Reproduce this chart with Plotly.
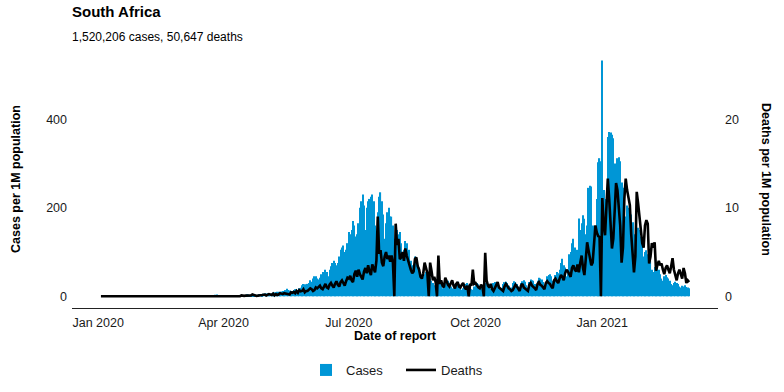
import pandas as pd
import plotly.graph_objects as go

# ---------------- data (per 1M population, daily, from 2020-01-03) ----------------
start_date = "2020-01-03"

cases_jan20 = [0, 0, 0, 0, 0, 0, 0, 0, 0, 0, 0, 0, 0, 0, 0, 0, 0, 0, 0, 0, 0, 0, 0, 0, 0, 0, 0, 0, 0]
cases_feb20 = [0, 0, 0, 0, 0, 0, 0, 0, 0, 0, 0, 0, 0, 0, 0, 0, 0, 0, 0, 0, 0, 0, 0, 0, 0, 0, 0, 0, 0]
cases_mar20 = [0, 0, 0, 0, 0.02, 0, 0.02, 0.02, 0.02, 0.03, 0.05, 0.05, 0.1, 0.1, 0.2, 0.2, 0.3, 0.5, 0.8, 0.8,
               1.7, 1.5, 2.1, 1.7, 2.1, 3.7, 4.1, 1.2, 0.5, 1.0, 0.9]
cases_apr20 = [1.4, 0.9, 1.7, 1.7, 0.9, 0.8, 1.2, 0.5, 1.8, 1.4, 3.0, 2.4, 1.8, 0.6, 0.7, 1.7, 2.9, 4.4, 4.2, 2.6,
               2.1, 2.1, 2.7, 4.6, 2.7, 2.9, 5.4, 5.0, 3.9, 5.7]
cases_may20 = [6, 6, 7, 6, 5, 7, 8, 9, 9, 10, 10, 9, 11, 12, 12, 14, 17, 14, 13, 12,
               12, 14, 16, 16, 14, 18, 19, 25, 28, 27, 23]
cases_jun20 = [28, 30, 36, 33, 40, 45, 45, 40, 38, 42, 50, 55, 55, 60, 55, 45, 60, 68, 75, 80,
               75, 70, 75, 90, 105, 110, 115, 100, 105, 120]
cases_jul20 = [145, 140, 150, 170, 160, 135, 140, 165, 200, 215, 230, 205, 150, 200, 215, 220, 225, 230, 215, 160,
               135, 190, 225, 235, 215, 185, 130, 165, 190, 200, 180]
cases_aug20 = [180, 160, 130, 140, 150, 140, 145, 120, 95, 105, 125, 120, 95, 105, 80, 70, 65, 90, 80, 70,
               65, 55, 48, 45, 50, 55, 50, 45, 40, 35, 30]
cases_sep20 = [25, 30, 35, 38, 32, 25, 18, 22, 30, 32, 35, 30, 22, 15, 18, 28, 30, 33, 28, 20,
               15, 18, 25, 28, 30, 26, 20, 16, 15, 22]
cases_oct20 = [28, 30, 27, 22, 18, 20, 28, 30, 32, 28, 22, 17, 20, 30, 32, 30, 27, 22, 16, 18,
               28, 32, 33, 30, 24, 18, 20, 30, 34, 32, 28]
cases_nov20 = [22, 20, 30, 34, 36, 33, 25, 20, 32, 38, 36, 35, 28, 22, 35, 42, 40, 38, 32, 24,
               30, 45, 48, 50, 45, 35, 30, 48, 55, 52]
cases_dec20 = [60, 75, 85, 70, 65, 45, 55, 95, 100, 120, 130, 110, 80, 105, 176, 150, 165, 183, 175, 140,
               160, 245, 250, 248, 160, 155, 150, 220, 303, 312, 305]
cases_jan21 = [533, 240, 220, 210, 360, 371, 370, 365, 357, 300, 280, 312, 314, 305, 257, 245, 228, 180, 205, 200,
               190, 185, 167, 140, 122, 150, 155, 150, 135, 115, 90]
cases_feb21 = [100, 104, 95, 90, 80, 60, 55, 66, 70, 66, 60, 50, 40, 35, 45, 48, 43, 40, 35, 28,
               25, 30, 33, 30, 28, 22, 20, 24]
cases_mar21 = [22, 25, 21, 20, 18]

deaths_jan20 = [0, 0, 0, 0, 0, 0, 0, 0, 0, 0, 0, 0, 0, 0, 0, 0, 0, 0, 0, 0, 0, 0, 0, 0, 0, 0, 0, 0, 0]
deaths_feb20 = [0, 0, 0, 0, 0, 0, 0, 0, 0, 0, 0, 0, 0, 0, 0, 0, 0, 0, 0, 0, 0, 0, 0, 0, 0, 0, 0, 0, 0]
deaths_mar20 = [0, 0, 0, 0, 0, 0, 0, 0, 0, 0, 0, 0, 0, 0, 0, 0, 0, 0, 0, 0,
                0, 0, 0, 0, 0, 0, 0.02, 0.0, 0.02, 0.03, 0.02]
deaths_apr20 = [0.02, 0.02, 0.03, 0.05, 0.02, 0.03, 0.03, 0.02, 0.05, 0.03, 0.05, 0.07, 0.02, 0.1, 0.03, 0.05, 0.07, 0.08, 0.02, 0.05,
                0.1, 0.2, 0.1, 0.1, 0.05, 0.07, 0.1, 0.05, 0.15, 0.18]
deaths_may20 = [0.2, 0.1, 0.15, 0.25, 0.2, 0.15, 0.3, 0.1, 0.25, 0.15, 0.2, 0.35, 0.3, 0.25, 0.35, 0.3, 0.3, 0.25, 0.2, 0.45,
                0.4, 0.5, 0.35, 0.6, 0.4, 0.7, 0.55, 0.6, 0.8, 0.45, 0.6]
deaths_jun20 = [0.6, 0.7, 0.9, 0.8, 0.6, 0.7, 1.0, 0.9, 1.1, 1.2, 0.9, 0.8, 1.1, 1.4, 1.0, 0.9, 1.3, 1.5, 1.2, 1.0,
                1.4, 1.7, 1.3, 1.1, 1.6, 1.8, 1.5, 1.2, 1.7, 2.1]
deaths_jul20 = [2.0, 2.3, 1.8, 1.6, 2.5, 2.9, 2.2, 3.0, 2.5, 2.2, 1.9, 2.8, 3.2, 2.6, 3.5, 2.8, 2.4, 3.6, 3.0, 2.7,
                4.0, 9.0, 4.8, 5.2, 3.8, 3.4, 4.5, 5.0, 4.2, 4.6, 3.9]
deaths_aug20 = [4.6, 3.8, 0.0, 8.2, 5.8, 6.5, 4.2, 4.4, 5.0, 4.0, 5.4, 4.6, 4.0, 3.6, 3.0, 2.6, 2.8, 4.2, 4.4, 3.4,
                3.0, 2.2, 2.0, 2.6, 3.8, 3.2, 2.6, 0.0, 3.8, 2.9, 1.8]
deaths_sep20 = [2.2, 1.6, 0.0, 4.6, 1.4, 1.8, 1.2, 1.0, 2.1, 1.6, 1.3, 1.1, 1.5, 1.8, 1.2, 0.9, 1.4, 1.6, 1.1, 1.0,
                1.3, 1.5, 1.0, 0.8, 1.2, 0.0, 1.4, 1.2, 3.0, 1.4]
deaths_oct20 = [1.5, 1.2, 1.0, 0.9, 1.3, 1.1, 0.0, 4.9, 1.8, 1.2, 1.0, 1.4, 0.8, 0.6, 0.9, 1.3, 1.6, 1.0, 0.9, 0.7,
                0.6, 1.1, 1.4, 1.2, 0.9, 0.8, 0.6, 0.7, 1.0, 1.3, 1.1]
deaths_nov20 = [0.8, 0.6, 1.2, 1.4, 1.0, 0.9, 0.7, 0.6, 1.3, 1.5, 1.2, 1.1, 0.9, 0.7, 1.4, 1.6, 1.3, 1.2, 1.0, 0.8,
                1.5, 1.7, 1.5, 1.4, 1.1, 0.9, 1.8, 2.0, 1.7, 1.5]
deaths_dec20 = [2.0, 2.4, 2.2, 1.8, 2.6, 3.0, 2.8, 2.5, 2.2, 3.2, 3.5, 3.0, 2.8, 3.6, 2.7, 3.8, 4.6, 3.2, 2.4, 4.2,
                6.1, 5.2, 4.3, 3.5, 3.8, 5.5, 8.0, 7.2, 6.8, 6.7, 0.0]
deaths_jan21 = [11.1, 8.0, 6.9, 9.5, 13.3, 11.0, 7.2, 5.4, 6.5, 9.0, 12.8, 12.0, 10.3, 8.0, 3.8, 5.5, 11.0, 13.3, 12.0, 11.0,
                10.3, 7.0, 5.0, 2.7, 4.5, 11.8, 10.5, 9.0, 7.5, 6.0, 5.5]
deaths_feb21 = [8.0, 8.6, 8.2, 3.7, 4.5, 6.0, 5.5, 6.1, 2.9, 3.5, 4.0, 3.5, 3.7, 3.0, 2.5, 3.2, 3.5, 3.0, 2.6, 3.4,
                4.3, 3.0, 2.4, 1.8, 2.6, 3.0, 2.5, 2.0]
deaths_mar21 = [3.2, 2.6, 1.5, 1.8, 1.6]

cases = (cases_jan20 + cases_feb20 + cases_mar20 + cases_apr20 + cases_may20 + cases_jun20 + cases_jul20
         + cases_aug20 + cases_sep20 + cases_oct20 + cases_nov20 + cases_dec20 + cases_jan21 + cases_feb21 + cases_mar21)
deaths = (deaths_jan20 + deaths_feb20 + deaths_mar20 + deaths_apr20 + deaths_may20 + deaths_jun20 + deaths_jul20
          + deaths_aug20 + deaths_sep20 + deaths_oct20 + deaths_nov20 + deaths_dec20 + deaths_jan21 + deaths_feb21 + deaths_mar21)
assert len(cases) == len(deaths) == 428, (len(cases), len(deaths))

x_tick_vals = ["2020-01-01", "2020-04-01", "2020-07-01", "2020-10-01", "2021-01-01"]
x_tick_text = ["Jan 2020", "Apr 2020", "Jul 2020", "Oct 2020", "Jan 2021"]
cases_ticks = [0, 200, 400]
deaths_ticks = [0, 10, 20]

title_text = "South Africa"
subtitle_text = "1,520,206 cases, 50,647 deaths"

dates = pd.date_range(start_date, periods=len(cases), freq="D")

# ---------------- figure ----------------
FONT = "Liberation Sans, Arial, Helvetica, sans-serif"
TXT = "#1a1a1a"

fig = go.Figure()
fig.add_trace(go.Bar(x=dates, y=cases, name="Cases", marker=dict(color="#0096D6", line=dict(width=0)),
                     yaxis="y"))
fig.add_trace(go.Scatter(x=dates, y=deaths, name="Deaths", mode="lines",
                         line=dict(color="black", width=2.6), yaxis="y2"))

L, R, T, B = 72, 66, 50, 84
W, H = 784, 392
pw, ph = W - L - R, H - T - B

def px_x(px):
    return (px - L) / pw

def px_y(py):
    return (H - B - py) / ph

fig.update_layout(
    width=W, height=H,
    margin=dict(l=L, r=R, t=T, b=B, pad=0, autoexpand=False),
    plot_bgcolor="white", paper_bgcolor="white",
    font=dict(family=FONT, color=TXT, size=12),
    bargap=0.18,
    showlegend=True,
    legend=dict(orientation="h", x=px_x(306), xanchor="left", y=px_y(370), yanchor="middle",
                font=dict(size=13, color=TXT), entrywidth=50, entrywidthmode="pixels",
                traceorder="normal"),
    xaxis=dict(type="date", range=["2019-12-13", "2021-03-26"], tickvals=x_tick_vals, ticktext=x_tick_text,
               showline=True, linecolor="#222222", linewidth=1.1, showgrid=False, zeroline=False,
               ticks="", ticklabelstandoff=3, tickfont=dict(size=12.5, color=TXT)),
    yaxis=dict(range=[-26.5, 556.5], tickvals=cases_ticks, showgrid=False, zeroline=False, showline=False,
               ticks="", ticklabelstandoff=4, tickfont=dict(size=12.5, color=TXT)),
    yaxis2=dict(range=[-26.5 / 20, 556.5 / 20], tickvals=deaths_ticks, overlaying="y", side="right",
                showgrid=False, zeroline=False, showline=False, ticks="", ticklabelstandoff=6,
                tickfont=dict(size=12.5, color=TXT)),
)

fig.add_annotation(text="<b>" + title_text + "</b>", xref="paper", yref="paper", x=px_x(70), y=px_y(12),
                   xanchor="left", yanchor="middle", showarrow=False, font=dict(size=15, color="black"))
fig.add_annotation(text=subtitle_text, xref="paper", yref="paper", x=px_x(70), y=px_y(37),
                   xanchor="left", yanchor="middle", showarrow=False, font=dict(size=12, color="black"))
fig.add_annotation(text="<b>Cases per 1M population</b>", xref="paper", yref="paper", x=px_x(16), y=0.5,
                   xanchor="center", yanchor="middle", textangle=-90, showarrow=False,
                   font=dict(size=12.5, color="black"))
fig.add_annotation(text="<b>Deaths per 1M population</b>", xref="paper", yref="paper", x=px_x(766), y=0.5,
                   xanchor="center", yanchor="middle", textangle=90, showarrow=False,
                   font=dict(size=12.5, color="black"))
fig.add_annotation(text="<b>Date of report</b>", xref="paper", yref="paper", x=0.5, y=px_y(336),
                   xanchor="center", yanchor="middle", showarrow=False, font=dict(size=12.5, color="black"))

fig.write_html("out.html", config={"displayModeBar": False},
               post_script="document.body.style.margin='0';")
